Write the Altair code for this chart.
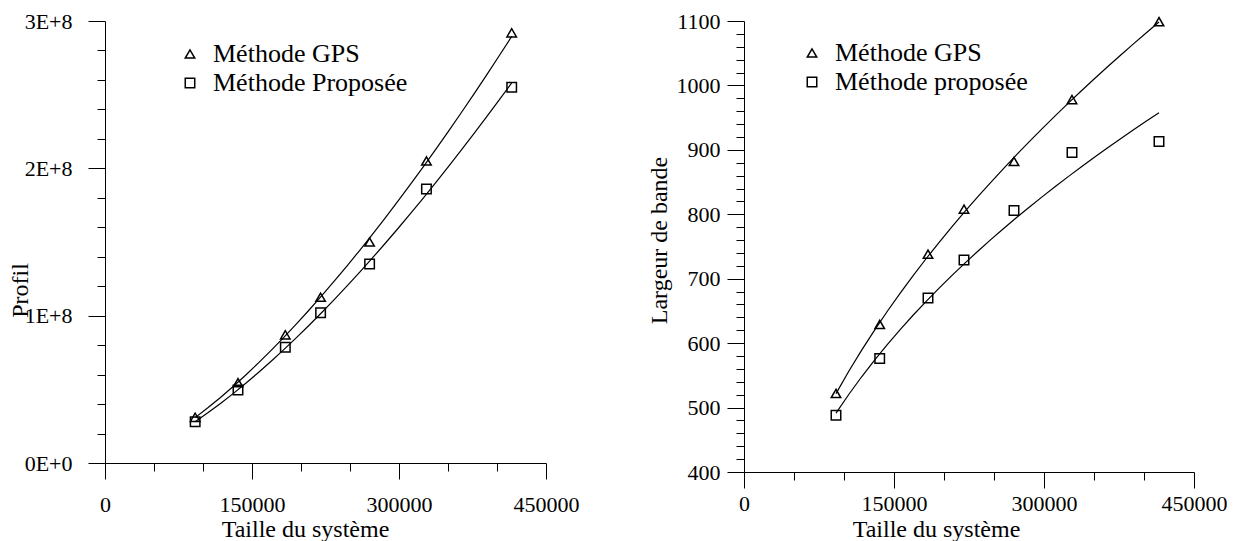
import altair as alt
import pandas as pd

# --- data ---
sizes = [92000, 135700, 184000, 220000, 270000, 328000, 415000]

profil_gps = [31e6, 54.5e6, 87e6, 112.5e6, 150e6, 205e6, 292e6]
profil_prop = [28e6, 49.5e6, 78.5e6, 102e6, 135e6, 186e6, 255e6]

bande_gps = [522, 629, 738, 808, 882, 978, 1099]
bande_prop = [488, 576, 670, 729, 806, 896, 913]

names_left = ["Méthode GPS", "Méthode Proposée"]
names_right = ["Méthode GPS", "Méthode proposée"]

x_title = "Taille du système"
y_title_left = "Profil"
y_title_right = "Largeur de bande"

x_ticks = list(range(0, 450001, 50000))
y_ticks_left = list(range(0, 300000001, 20000000))
y_ticks_right = list(range(400, 1101, 20))

FONT = "Liberation Serif"
FS_TICK = 22
FS_TITLE = 24
FS_LEGEND = 26


def long_df(a, b, names):
    rows = []
    for s, v in zip(sizes, a):
        rows.append({"size": s, "value": v, "series": names[0]})
    for s, v in zip(sizes, b):
        rows.append({"size": s, "value": v, "series": names[1]})
    return pd.DataFrame(rows)


def axis_common(**kw):
    base = dict(
        grid=False, domainColor="black", domainWidth=1, tickColor="black", tickWidth=1,
        labelColor="black", labelFont=FONT, labelFontSize=FS_TICK, titleFont=FONT,
        titleFontSize=FS_TITLE, titleFontWeight="normal", titleColor="black",
        labelFlush=False, labelOverlap=False, labelBound=False,
    )
    base.update(kw)
    return alt.Axis(**base)


def panel(df, names, ydomain, yticks, ylabel_expr, ymajor_test, ytitle,
          w, h, ylabpad, xlabpad, ytitle_xy, xtitle_xy, legend_xy):
    x_axis = axis_common(
        values=x_ticks, title=x_title,
        labelExpr="datum.value % 150000 === 0 ? format(datum.value, 'd') : ''",
        tickSize={"condition": {"test": "datum.value % 150000 === 0", "value": 16}, "value": 8},
        labelPadding=xlabpad,
        titleX=xtitle_xy[0], titleY=xtitle_xy[1], titleAlign="center", titleBaseline="middle",
    )
    y_axis = axis_common(
        values=yticks, title=ytitle,
        labelExpr=ylabel_expr,
        tickSize={"condition": {"test": ymajor_test, "value": 17}, "value": 8},
        labelPadding=ylabpad,
        titleX=ytitle_xy[0], titleY=ytitle_xy[1], titleAlign="center", titleBaseline="middle",
        titleAngle=270,
    )
    x_enc = alt.X("size:Q", scale=alt.Scale(domain=[0, 450000], nice=False), axis=x_axis)
    y_enc = alt.Y("value:Q", scale=alt.Scale(domain=ydomain, nice=False, zero=False), axis=y_axis)

    lines = alt.Chart(df).transform_regression(
        "size", "value", method="pow", groupby=["series"]
    ).mark_line(color="black", strokeWidth=1.2).encode(
        x=x_enc, y=y_enc, detail="series:N"
    )
    pts = alt.Chart(df).mark_point(
        filled=False, color="black", strokeWidth=1.5, size=90, opacity=1
    ).encode(
        x=x_enc, y=y_enc,
        shape=alt.Shape(
            "series:N",
            scale=alt.Scale(domain=names, range=["triangle-up", "square"]),
            legend=alt.Legend(
                title=None, orient="none", legendX=legend_xy[0], legendY=legend_xy[1],
                labelFont=FONT, labelFontSize=FS_LEGEND, labelColor="black", labelOffset=10,
                labelLimit=0,
                symbolSize=90, symbolStrokeWidth=1.5, symbolStrokeColor="black",
                symbolFillColor="white", rowPadding=3, padding=0,
            ),
        ),
    )
    return alt.layer(lines, pts).properties(width=w, height=h)


left = panel(
    long_df(profil_gps, profil_prop, names_left), names_left,
    [0, 300000000], y_ticks_left,
    "datum.value % 100000000 === 0 ? format(datum.value / 100000000, 'd') + 'E+' + (datum.value === 0 ? '0' : '8') : ''",
    "datum.value % 100000000 === 0", y_title_left,
    441, 442, 16, 15, (-85, 269), (200, 66), (72, 20),
)

right = panel(
    long_df(bande_gps, bande_prop, names_right), names_right,
    [400, 1100], y_ticks_right,
    "datum.value % 100 === 0 ? format(datum.value, 'd') : ''",
    "datum.value % 100 === 0", y_title_right,
    450, 451, 7, 5, (-85, 219), (192, 57), (55, 19),
)

chart = alt.hconcat(left, right, spacing=68).resolve_scale(shape="independent").configure_view(
    stroke=None
).properties(padding={"left": 0, "top": 2, "right": 0, "bottom": 0}, background="white")

chart.save("out.html", embed_options={"renderer": "svg", "actions": False})
